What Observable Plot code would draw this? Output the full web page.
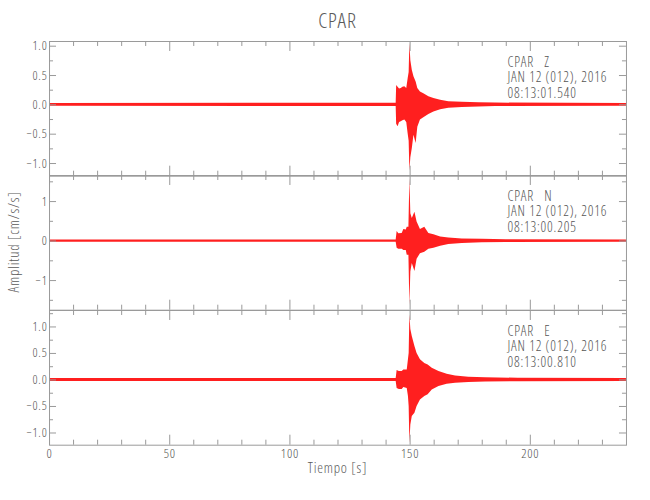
<!DOCTYPE html>
<html><head><meta charset="utf-8">
<script src="https://cdn.jsdelivr.net/npm/d3@7"></script>
<script src="https://cdn.jsdelivr.net/npm/@observablehq/plot@0.6"></script>
<style>
body{margin:0;background:#fff;}
#fig{position:relative;width:650px;height:500px;overflow:hidden;font-family:"Open Sans",sans-serif;font-stretch:75%;font-weight:300;color:#5a5a5a;letter-spacing:0.8px;}
#fig svg{position:absolute;left:0;overflow:visible;}
#fig svg text{font-stretch:75%;font-weight:300;letter-spacing:0.8px;}
.lbl{position:absolute;white-space:pre;}
</style></head><body><div id="fig"></div>
<script>
// ---- data ----
const station = "CPAR";
const dateText = "JAN 12 (012), 2016";
const components = ["Z", "N", "E"];
const startTimes = ["08:13:01.540", "08:13:00.205", "08:13:00.810"];
const xLabel = "Tiempo [s]";
const yLabel = "Amplitud [cm/s/s]";

const xDomain = [0, 240];
const xMajor = [0, 50, 100, 150, 200];
const xMajorLabels = ["0", "50", "100", "150", "200"];
const xMinor = [10, 20, 30, 40, 60, 70, 80, 90, 110, 120, 130, 140, 160, 170, 180, 190, 210, 220, 230];
const annotX = 190.5;

// y domains per panel (Z, N, E)
const zDomain = [-1.216, 1.08];
const nDomain = [-1.75, 1.66];
const eDomain = [-1.23, 1.31];

const zTicks = [-1, -0.5, 0, 0.5, 1];
const zTickLabels = ["\u22121.0", "\u22120.5", "0.0", "0.5", "1.0"];
const zMinor = [-0.75, -0.25, 0.25, 0.75];
const nTicks = [-1, 0, 1];
const nTickLabels = ["\u22121", "0", "1"];
const nMinor = [-1.5, -0.5, 0.5, 1.5];
const eTicks = [-1, -0.5, 0, 0.5, 1];
const eTickLabels = ["\u22121.0", "\u22120.5", "0.0", "0.5", "1.0"];
const eMinor = [-0.75, -0.25, 0.25, 0.75, 1.25];

// signal envelopes (time [s], upper, lower amplitude)
const zTime  = [0, 144.2, 144.4, 145.0, 145.6, 146.3, 147.0, 147.8, 148.6, 149.2, 149.6, 149.9, 150.3, 150.9, 151.6, 152.5, 153.2, 154.3, 155.7, 157.8, 159.9, 162.7, 166.1, 171.7, 178.6, 185.5, 240];
const zUpper = [0.025, 0.028, 0.33, 0.30, 0.27, 0.28, 0.30, 0.31, 0.28, 0.45, 0.55, 1.05, 0.75, 0.59, 0.48, 0.39, 0.28, 0.22, 0.19, 0.14, 0.11, 0.08, 0.055, 0.045, 0.035, 0.03, 0.025];
const zLower = [-0.025, -0.028, -0.33, -0.375, -0.30, -0.29, -0.27, -0.26, -0.30, -0.50, -0.62, -1.13, -0.90, -0.75, -0.52, -0.66, -0.38, -0.26, -0.22, -0.165, -0.12, -0.085, -0.06, -0.045, -0.035, -0.03, -0.025];

const nTime  = [0, 144.2, 144.6, 145.3, 146.7, 147.4, 148.4, 148.8, 149.5, 149.9, 150.3, 150.9, 152.0, 152.9, 154.3, 156.1, 157.8, 159.9, 162.7, 166.1, 171.7, 180, 190, 240];
const nUpper = [0.03, 0.03, 0.245, 0.185, 0.19, 0.29, 0.28, 0.35, 0.35, 1.58, 0.69, 0.57, 0.73, 0.48, 0.29, 0.35, 0.19, 0.16, 0.10, 0.08, 0.05, 0.045, 0.035, 0.03];
const nLower = [-0.03, -0.03, -0.18, -0.21, -0.21, -0.24, -0.24, -0.36, -0.36, -1.63, -0.78, -0.57, -0.77, -0.46, -0.32, -0.28, -0.21, -0.18, -0.13, -0.09, -0.06, -0.045, -0.035, -0.03];

const eTime  = [0, 144.2, 144.6, 145.5, 146.7, 147.4, 148.8, 149.3, 149.6, 149.9, 150.3, 150.9, 152.0, 152.9, 154.3, 156.1, 157.5, 159.2, 162.0, 165.4, 168.9, 174.4, 181.4, 195, 240];
const eUpper = [0.028, 0.028, 0.18, 0.16, 0.16, 0.19, 0.19, 0.38, 0.50, 1.23, 0.95, 0.82, 0.63, 0.50, 0.38, 0.31, 0.28, 0.22, 0.16, 0.11, 0.075, 0.05, 0.04, 0.033, 0.028];
const eLower = [-0.028, -0.028, -0.16, -0.18, -0.18, -0.14, -0.16, -0.31, -0.50, -1.20, -0.85, -0.69, -0.63, -0.50, -0.38, -0.31, -0.28, -0.19, -0.125, -0.08, -0.06, -0.05, -0.04, -0.033, -0.028];

// ---- layout ----
const W = 650, ML = 49, MR = 24;
const panelTops = [40.5, 175.2, 309.9];
const panelH = 134.7;
const innerW = W - ML - MR;
const axisColor = "#9a9a9a";
const textColor = "#555555";
const traceColor = "#ff0000";
const fontFamily = '"Open Sans",sans-serif';

const panels = [
  {time: zTime, up: zUpper, lo: zLower, domain: zDomain, ticks: zTicks, labels: zTickLabels, minor: zMinor},
  {time: nTime, up: nUpper, lo: nLower, domain: nDomain, ticks: nTicks, labels: nTickLabels, minor: nMinor},
  {time: eTime, up: eUpper, lo: eLower, domain: eDomain, ticks: eTicks, labels: eTickLabels, minor: eMinor}
];

const fig = document.getElementById("fig");

panels.forEach((p, k) => {
  const last = k === panels.length - 1;
  const mt = 1, mb = last ? 24 : 1;
  const rows = p.time.map((t, i) => ({t, hi: p.up[i], lo: p.lo[i]}));
  const annot = [`${station}   ${components[k]}\n${dateText}\n${startTimes[k]}`];
  const marks = [
    Plot.areaY(rows, {x: "t", y1: "lo", y2: "hi", fill: traceColor, fillOpacity: 0.88}),
    Plot.frame({stroke: axisColor}),
    Plot.ruleY(p.ticks, {stroke: axisColor, insetRight: innerW - 7}),
    Plot.ruleY(p.ticks, {stroke: axisColor, insetLeft: innerW - 7}),
    Plot.ruleY(p.minor, {stroke: axisColor, insetRight: innerW - 4}),
    Plot.ruleY(p.minor, {stroke: axisColor, insetLeft: innerW - 4}),
    Plot.ruleX(xMajor, {stroke: axisColor, insetBottom: panelH - 10}),
    Plot.ruleX(xMajor, {stroke: axisColor, insetTop: panelH - 10}),
    Plot.ruleX(xMinor, {stroke: axisColor, insetBottom: panelH - 5}),
    Plot.ruleX(xMinor, {stroke: axisColor, insetTop: panelH - 5}),
    Plot.axisY({ticks: p.ticks, tickSize: 0, tickPadding: 2, label: null, fill: textColor, fontSize: 12.5,
      tickFormat: d => p.labels[p.ticks.indexOf(d)]}),
    Plot.text(annot, {x: annotX, frameAnchor: "top", text: d => d, textAnchor: "start", lineAnchor: "top",
      dy: 14, lineHeight: 1.12, fontSize: 14, fill: textColor})
  ];
  if (last) {
    marks.push(Plot.axisX({ticks: xMajor, tickSize: 0, tickPadding: 4, label: null, fill: textColor, fontSize: 13,
      tickFormat: d => xMajorLabels[xMajor.indexOf(d)]}));
  }
  const svg = Plot.plot({
    width: W, height: panelH + mt + mb,
    marginLeft: ML, marginRight: MR, marginTop: mt, marginBottom: mb,
    x: {domain: xDomain, axis: null},
    y: {domain: p.domain, axis: null},
    style: {fontFamily, fontSize: "12px", background: "transparent", overflow: "visible"},
    marks
  });
  svg.style.top = (panelTops[k] - mt) + "px";
  fig.appendChild(svg);
});

function addLabel(text, css) {
  const d = document.createElement("div");
  d.className = "lbl";
  d.textContent = text;
  Object.assign(d.style, css);
  fig.appendChild(d);
}
addLabel(station, {left: ML + "px", width: innerW + "px", textAlign: "center", top: "7px", fontSize: "21px", lineHeight: "26px"});
addLabel(xLabel, {left: ML + "px", width: innerW + "px", textAlign: "center", top: "459px", fontSize: "14.5px", lineHeight: "18px"});
addLabel(yLabel, {left: "14px", top: "242px", fontSize: "14.5px", lineHeight: "16px", transform: "translate(-50%,-50%) rotate(-90deg)"});
</script></body></html>
